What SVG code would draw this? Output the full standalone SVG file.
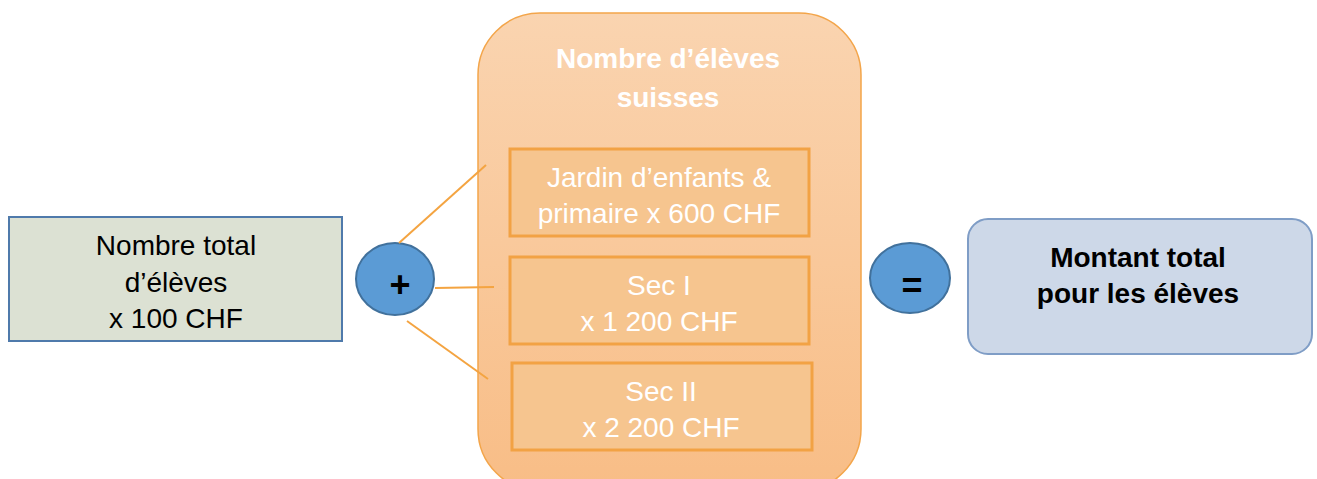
<svg xmlns="http://www.w3.org/2000/svg" width="1317" height="479" viewBox="0 0 1317 479">
<defs>
<linearGradient id="og" x1="0" y1="0" x2="0" y2="1">
<stop offset="0" stop-color="#FAD4B0"/>
<stop offset="1" stop-color="#F8BD86"/>
</linearGradient>
<style>
.t{font-family:"Liberation Sans",Arial,sans-serif;font-size:28px;text-anchor:middle}
.b{font-weight:bold}
.op-t{font-size:36px}
.w{fill:#FFFFFF}
.k{fill:#000000}
.inner{fill:#F6C58F;stroke:#F2A244;stroke-width:3}
.op{fill:#5B9BD5;stroke:#41719C;stroke-width:2}
.conn{stroke:#F4A441;stroke-width:2;fill:none}
</style>
</defs>
<rect width="1317" height="479" fill="#FFFFFF"/>
<g id="total-eleves">
<rect x="9" y="217" width="333" height="124" fill="#DCE1D3" stroke="#4F7AAB" stroke-width="2"/>
<text class="t k" x="176" y="255">Nombre total</text>
<text class="t k" x="176" y="292">d’élèves</text>
<text class="t k" x="176" y="328">x 100 CHF</text>
</g>
<g id="plus">
<ellipse class="op" cx="395" cy="279" rx="39" ry="36"/>
<text class="t b k op-t" x="400" y="297">+</text>
</g>
<g id="eleves-suisses">
<rect x="478" y="13" width="383" height="478" rx="62" ry="62" fill="url(#og)" stroke="#F3A54A" stroke-width="1.5"/>
<text class="t b w" x="668" y="68">Nombre d’élèves</text>
<text class="t b w" x="668" y="107">suisses</text>
</g>
<g id="jardin">
<rect class="inner" x="510" y="149" width="299" height="87"/>
<text class="t w" x="659" y="187">Jardin d’enfants &amp;</text>
<text class="t w" x="659" y="223">primaire x 600 CHF</text>
</g>
<g id="sec1">
<rect class="inner" x="510" y="257" width="299" height="87"/>
<text class="t w" x="659" y="295">Sec I</text>
<text class="t w" x="659" y="331">x 1 200 CHF</text>
</g>
<g id="sec2">
<rect class="inner" x="512" y="363" width="300" height="87"/>
<text class="t w" x="661" y="401">Sec II</text>
<text class="t w" x="661" y="437">x 2 200 CHF</text>
</g>
<g id="equals">
<ellipse class="op" cx="910" cy="278" rx="40" ry="35"/>
<text class="t b k op-t" x="912" y="298">=</text>
</g>
<g id="montant-total">
<rect x="968" y="219" width="344" height="135" rx="20" ry="20" fill="#CDD8E8" stroke="#7F9DC6" stroke-width="2"/>
<text class="t b k" x="1138" y="267">Montant total</text>
<text class="t b k" x="1138" y="303">pour les élèves</text>
</g>
<g id="connectors">
<line class="conn" x1="399" y1="243" x2="486" y2="165"/>
<line class="conn" x1="435" y1="288" x2="494" y2="287"/>
<line class="conn" x1="407" y1="321" x2="488" y2="379"/>
</g>
</svg>
